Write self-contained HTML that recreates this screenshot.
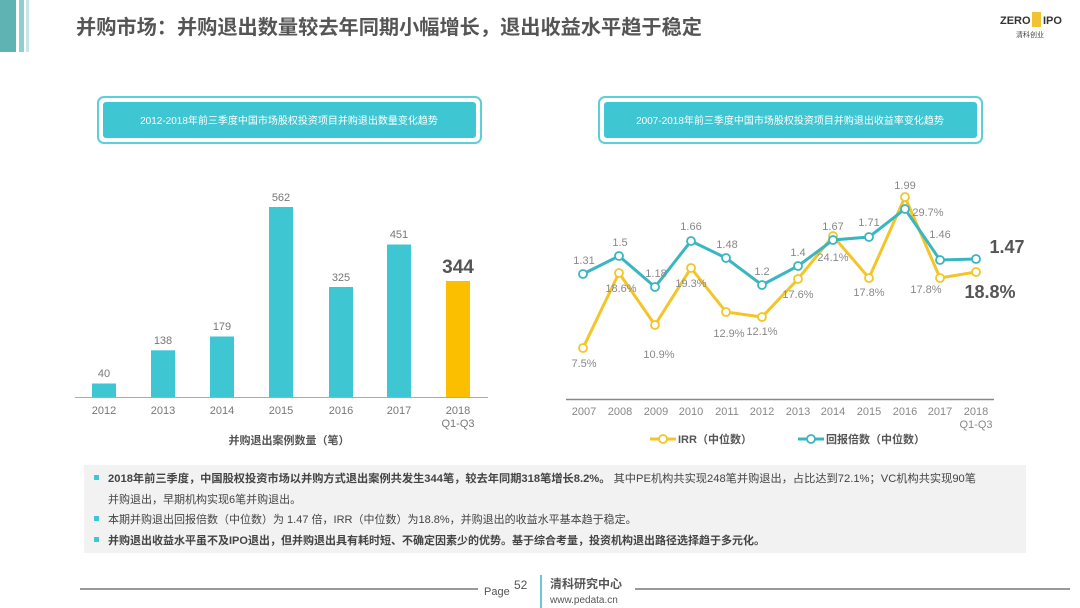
<!DOCTYPE html>
<html><head><meta charset="utf-8"><style>
body{margin:0;width:1080px;height:608px;background:#fff;overflow:hidden;font-family:"Liberation Sans","Noto Sans CJK SC",sans-serif;}
svg{position:absolute;left:0;top:0}
</style></head><body>
<svg width="1080" height="608" xmlns="http://www.w3.org/2000/svg" font-family="Liberation Sans, Noto Sans CJK SC, sans-serif">
<rect x="0" y="0" width="1080" height="608" fill="#fff"/>
<rect x="0" y="0" width="16" height="52" fill="#5fb3b3"/>
<rect x="19" y="0" width="5" height="52" fill="#8fcfcf"/>
<rect x="26" y="0" width="3" height="52" fill="#c8e6e6"/>
<text x="76" y="34" font-size="20" font-weight="bold" fill="#555" textLength="626" lengthAdjust="spacingAndGlyphs">并购市场：并购退出数量较去年同期小幅增长，退出收益水平趋于稳定</text>
<text x="1000" y="24" font-size="11" font-weight="bold" fill="#333">ZERO</text>
<rect x="1032" y="12" width="9" height="15" fill="#f1c232"/>
<text x="1043" y="24" font-size="11" font-weight="bold" fill="#333">IPO</text>
<text x="1016" y="37" font-size="7" fill="#444">清科创业</text>
<rect x="98" y="97" width="383" height="46" rx="6" fill="#fff" stroke="#5ccfd8" stroke-width="2"/>
<rect x="103" y="102" width="373" height="36" rx="3" fill="#3ec6d2"/>
<text x="289" y="124" font-size="10" fill="#fff" text-anchor="middle">2012-2018年前三季度中国市场股权投资项目并购退出数量变化趋势</text>
<rect x="599" y="97" width="383" height="46" rx="6" fill="#fff" stroke="#5ccfd8" stroke-width="2"/>
<rect x="604" y="102" width="373" height="36" rx="3" fill="#3ec6d2"/>
<text x="790" y="124" font-size="10" fill="#fff" text-anchor="middle">2007-2018年前三季度中国市场股权投资项目并购退出收益率变化趋势</text>
<g fill="#3ec6d2">
<rect x="92" y="383.5" width="24" height="13.5"/>
<rect x="151" y="350.3" width="24" height="46.7"/>
<rect x="210" y="336.5" width="24" height="60.5"/>
<rect x="269" y="207" width="24" height="190"/>
<rect x="329" y="287" width="24" height="110"/>
<rect x="387" y="244.5" width="24" height="152.5"/>
</g>
<rect x="446" y="281" width="24" height="116" fill="#fbbf00"/>
<line x1="75" y1="397.5" x2="488" y2="397.5" stroke="#aaa" stroke-width="1"/>
<g font-size="11" fill="#777" text-anchor="middle">
<text x="104" y="377">40</text><text x="163" y="344">138</text><text x="222" y="330">179</text>
<text x="281" y="201">562</text><text x="341" y="281">325</text><text x="399" y="238">451</text>
<text x="104" y="414">2012</text><text x="163" y="414">2013</text><text x="222" y="414">2014</text>
<text x="281" y="414">2015</text><text x="341" y="414">2016</text><text x="399" y="414">2017</text>
<text x="458" y="414">2018</text><text x="458" y="427">Q1-Q3</text>
</g>
<text x="458" y="273" font-size="19" font-weight="bold" fill="#555" text-anchor="middle">344</text>
<text x="289" y="444" font-size="11" font-weight="bold" fill="#555" text-anchor="middle">并购退出案例数量（笔）</text>
<line x1="566" y1="399.5" x2="994" y2="399.5" stroke="#888" stroke-width="1.5"/>
<polyline fill="none" stroke="#f3c528" stroke-width="3" points="583,348 619,273 655,325 691,268 726,312 762,317 798,279 833,236 869,278 905,197 940,278 976,272"/>
<polyline fill="none" stroke="#3ab5c2" stroke-width="3" points="583,274 619,256 655,287 691,241 726,258 762,285 798,266 833,240 869,237 905,209 940,260 976,259"/>
<g fill="#fff" stroke="#f3c528" stroke-width="1.8">
<circle cx="583" cy="348" r="4"/><circle cx="619" cy="273" r="4"/><circle cx="655" cy="325" r="4"/><circle cx="691" cy="268" r="4"/><circle cx="726" cy="312" r="4"/><circle cx="762" cy="317" r="4"/><circle cx="798" cy="279" r="4"/><circle cx="833" cy="236" r="4"/><circle cx="869" cy="278" r="4"/><circle cx="905" cy="197" r="4"/><circle cx="940" cy="278" r="4"/><circle cx="976" cy="272" r="4"/>
</g>
<g fill="#fff" stroke="#3ab5c2" stroke-width="1.8">
<circle cx="583" cy="274" r="4"/><circle cx="619" cy="256" r="4"/><circle cx="655" cy="287" r="4"/><circle cx="691" cy="241" r="4"/><circle cx="726" cy="258" r="4"/><circle cx="762" cy="285" r="4"/><circle cx="798" cy="266" r="4"/><circle cx="833" cy="240" r="4"/><circle cx="869" cy="237" r="4"/><circle cx="905" cy="209" r="4"/><circle cx="940" cy="260" r="4"/><circle cx="976" cy="259" r="4"/>
</g>
<g font-size="11" fill="#888" text-anchor="middle">
<text x="584" y="264">1.31</text><text x="620" y="246">1.5</text><text x="656" y="277">1.18</text><text x="691" y="230">1.66</text><text x="727" y="248">1.48</text><text x="762" y="275">1.2</text><text x="798" y="256">1.4</text><text x="833" y="230">1.67</text><text x="869" y="226">1.71</text><text x="905" y="189">1.99</text><text x="940" y="238">1.46</text>
<text x="584" y="367">7.5%</text><text x="621" y="292">18.6%</text><text x="659" y="358">10.9%</text><text x="691" y="287">19.3%</text><text x="729" y="337">12.9%</text><text x="762" y="335">12.1%</text><text x="798" y="298">17.6%</text><text x="833" y="261">24.1%</text><text x="869" y="296">17.8%</text><text x="928" y="216">29.7%</text><text x="926" y="293">17.8%</text>
<text x="584" y="415">2007</text><text x="620" y="415">2008</text><text x="656" y="415">2009</text><text x="691" y="415">2010</text><text x="727" y="415">2011</text><text x="762" y="415">2012</text><text x="798" y="415">2013</text><text x="833" y="415">2014</text><text x="869" y="415">2015</text><text x="905" y="415">2016</text><text x="940" y="415">2017</text><text x="976" y="415">2018</text><text x="976" y="428">Q1-Q3</text>
</g>
<text x="1007" y="253" font-size="18" font-weight="bold" fill="#555" text-anchor="middle">1.47</text>
<text x="990" y="298" font-size="18" font-weight="bold" fill="#555" text-anchor="middle">18.8%</text>
<line x1="650" y1="439" x2="676" y2="439" stroke="#f3c528" stroke-width="3"/><circle cx="663" cy="439" r="4" fill="#fff" stroke="#f3c528" stroke-width="1.8"/>
<text x="678" y="443" font-size="11" font-weight="bold" fill="#555">IRR（中位数）</text>
<line x1="798" y1="439" x2="824" y2="439" stroke="#3ab5c2" stroke-width="3"/><circle cx="811" cy="439" r="4" fill="#fff" stroke="#3ab5c2" stroke-width="1.8"/>
<text x="826" y="443" font-size="11" font-weight="bold" fill="#555">回报倍数（中位数）</text>
<rect x="84" y="465" width="942" height="88" fill="#f2f2f2"/>
<g font-size="11" fill="#444">
<rect x="94" y="475" width="5" height="5" fill="#3ec6d2"/>
<text x="108" y="482" textLength="868" lengthAdjust="spacingAndGlyphs"><tspan font-weight="bold">2018年前三季度，中国股权投资市场以并购方式退出案例共发生344笔，较去年同期318笔增长8.2%。</tspan> 其中PE机构共实现248笔并购退出，占比达到72.1%；VC机构共实现90笔</text>
<text x="108" y="503">并购退出，早期机构实现6笔并购退出。</text>
<rect x="94" y="516" width="5" height="5" fill="#3ec6d2"/>
<text x="108" y="523">本期并购退出回报倍数（中位数）为 1.47 倍，IRR（中位数）为18.8%，并购退出的收益水平基本趋于稳定。</text>
<rect x="94" y="537" width="5" height="5" fill="#3ec6d2"/>
<text x="108" y="544" font-weight="bold">并购退出收益水平虽不及IPO退出，但并购退出具有耗时短、不确定因素少的优势。基于综合考量，投资机构退出路径选择趋于多元化。</text>
</g>
<line x1="80" y1="589" x2="478" y2="589" stroke="#999" stroke-width="2"/>
<line x1="635" y1="589" x2="1070" y2="589" stroke="#999" stroke-width="2"/>
<text x="484" y="595" font-size="11" fill="#555">Page</text>
<text x="514" y="589" font-size="12" fill="#555">52</text>
<line x1="541" y1="575" x2="541" y2="608" stroke="#3ab5c2" stroke-width="1.5"/>
<text x="550" y="588" font-size="12" font-weight="bold" fill="#555">清科研究中心</text>
<text x="550" y="603" font-size="10" fill="#555">www.pedata.cn</text>
</svg>
</body></html>
